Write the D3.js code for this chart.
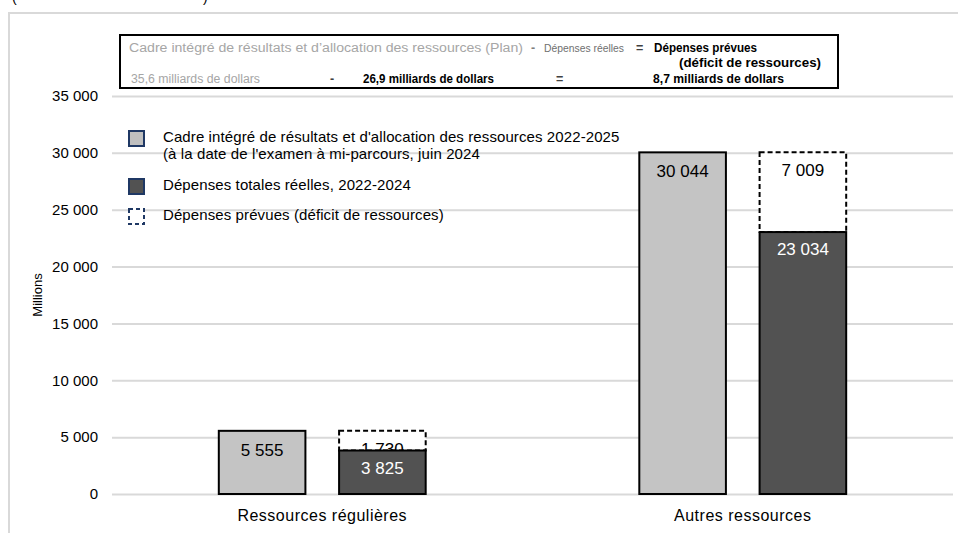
<!DOCTYPE html>
<html>
<head>
<meta charset="utf-8">
<script src="https://cdn.jsdelivr.net/npm/d3@7"></script>
<style>
  html, body { margin: 0; padding: 0; background: #fff; }
  svg { display: block; }
  text { font-family: "Liberation Sans", Arial, sans-serif; }
  .boxtxt { font-family: "Liberation Sans Narrow", "Arial Narrow", "Liberation Sans", sans-serif; }
</style>
</head>
<body>
<svg id="chart" width="958" height="533"></svg>
<script>
// Categories and series (millions of dollars)
const categories = ["Ressources régulières", "Autres ressources"];
const planValues = [5555, 30044];      // Cadre intégré (plan)
const actualValues = [3825, 23034];    // Dépenses totales réelles
const deficitValues = [1730, 7009];    // Dépenses prévues (déficit)
const yTicks = [0, 5000, 10000, 15000, 20000, 25000, 30000, 35000];

const legendItems = [
  { kind: "plan", lines: ["Cadre intégré de résultats et d'allocation des ressources 2022-2025", "(à la date de l'examen à mi-parcours, juin 2024"] },
  { kind: "actual", lines: ["Dépenses totales réelles, 2022-2024"] },
  { kind: "deficit", lines: ["Dépenses prévues (déficit de ressources)"] }
];

const fr = d3.formatLocale({ decimal: ",", thousands: " ", grouping: [3], currency: ["", ""] });
const fmt = fr.format(",d");

const svg = d3.select("#chart");
const COL_PLAN = "#c4c4c4", COL_ACT = "#525252", GRID = "#d9d9d9", NAVY = "#1f3864";

// outer frame running off the page
svg.append("path")
  .attr("d", "M9,540 L9,13 L970,13")
  .attr("fill", "none").attr("stroke", GRID).attr("stroke-width", 2);

// tail of the line above the frame
svg.append("text").attr("x", 12).attr("y", 2).attr("font-size", 14).attr("fill", "#000").text("(");
svg.append("text").attr("x", 203).attr("y", 2).attr("font-size", 14).attr("fill", "#000").text(")");

const plot = { left: 112, right: 953, top: 96, bottom: 494 };

const y = d3.scaleLinear().domain([0, 35000]).range([plot.bottom, plot.top]);
const x0 = d3.scaleBand().domain(categories).range([plot.left, plot.right]);
const x1 = d3.scaleBand().domain(["plan", "actual"])
  .range([x0.bandwidth() * 0.254, x0.bandwidth() * 0.746])
  .paddingInner(0.28);

// gridlines + y tick labels
const yAxis = d3.axisLeft(y).tickValues(yTicks).tickFormat(fmt)
  .tickSize(-(plot.right - plot.left)).tickPadding(14);
const ya = svg.append("g").attr("transform", `translate(${plot.left},0)`).call(yAxis);
ya.select(".domain").remove();
ya.selectAll(".tick line").attr("stroke", GRID).attr("stroke-width", 2);
ya.selectAll(".tick text").attr("font-size", 15).attr("fill", "#000")
  .attr("font-family", "Liberation Sans, Arial, sans-serif");

// category axis labels
const xAxis = d3.axisBottom(x0).tickSize(0).tickPadding(16);
const xa = svg.append("g").attr("transform", `translate(0,${plot.bottom})`).call(xAxis);
xa.select(".domain").remove();
xa.selectAll(".tick text").attr("font-size", 16).attr("letter-spacing", 0.5).attr("fill", "#000")
  .attr("font-family", "Liberation Sans, Arial, sans-serif");

// y axis title
svg.append("text")
  .attr("transform", "translate(42,295) rotate(-90)")
  .attr("text-anchor", "middle").attr("font-size", 13).attr("fill", "#000")
  .text("Millions");

const groups = svg.append("g").selectAll("g")
  .data(categories).join("g")
  .attr("transform", d => `translate(${x0(d)},0)`);

// plan bars
groups.append("rect")
  .attr("x", x1("plan")).attr("width", x1.bandwidth())
  .attr("y", (d, i) => y(planValues[i]))
  .attr("height", (d, i) => y(0) - y(planValues[i]))
  .attr("fill", COL_PLAN).attr("stroke", "#000").attr("stroke-width", 2);
groups.append("text")
  .attr("x", x1("plan") + x1.bandwidth() / 2)
  .attr("y", (d, i) => y(planValues[i]) + 25)
  .attr("text-anchor", "middle").attr("font-size", 17).attr("fill", "#000")
  .text((d, i) => fmt(planValues[i]));

// planned spending (deficit) stacked on top of actual, dashed outline
groups.append("rect")
  .attr("x", x1("actual")).attr("width", x1.bandwidth())
  .attr("y", (d, i) => y(actualValues[i] + deficitValues[i]))
  .attr("height", (d, i) => y(actualValues[i]) - y(actualValues[i] + deficitValues[i]))
  .attr("fill", "#fff").attr("stroke", "#000").attr("stroke-width", 2)
  .attr("stroke-dasharray", "5,3");
groups.append("text")
  .attr("x", x1("actual") + x1.bandwidth() / 2)
  .attr("y", (d, i) => y(actualValues[i] + deficitValues[i]) + 24)
  .attr("text-anchor", "middle").attr("font-size", 17).attr("fill", "#000")
  .text((d, i) => fmt(deficitValues[i]));

// actual spending bars
groups.append("rect")
  .attr("x", x1("actual")).attr("width", x1.bandwidth())
  .attr("y", (d, i) => y(actualValues[i]))
  .attr("height", (d, i) => y(0) - y(actualValues[i]))
  .attr("fill", COL_ACT).attr("stroke", "#000").attr("stroke-width", 2);
groups.append("text")
  .attr("x", x1("actual") + x1.bandwidth() / 2)
  .attr("y", (d, i) => y(actualValues[i]) + 23)
  .attr("text-anchor", "middle").attr("font-size", 17).attr("fill", "#fff")
  .text((d, i) => fmt(actualValues[i]));

// legend
const legendRows = [138, 186, 216];
const lg = svg.append("g");
legendItems.forEach((item, k) => {
  const cy = legendRows[k];
  const r = lg.append("rect").attr("x", 129).attr("y", cy - 7).attr("width", 15).attr("height", 15)
    .attr("stroke", NAVY).attr("stroke-width", 2);
  if (item.kind === "plan") r.attr("fill", "#bfbfbf");
  else if (item.kind === "actual") r.attr("fill", COL_ACT);
  else r.attr("fill", "#fff").attr("stroke-dasharray", "4,3");
  item.lines.forEach((line, j) => {
    lg.append("text").attr("x", 163).attr("y", cy + 4 + j * 17)
      .attr("font-size", 15).attr("letter-spacing", 0.1).attr("fill", "#000").text(line);
  });
});

// equation box
svg.append("rect").attr("x", 120).attr("y", 35).attr("width", 718).attr("height", 53)
  .attr("fill", "#fff").attr("stroke", "#000").attr("stroke-width", 2);

const boxTexts = [
  { t: "Cadre intégré de résultats et d\u2019allocation des ressources (Plan)", x: 129, y: 52, w: 394, s: 12.5, c: "#a6a6a6", b: false },
  { t: "-", x: 531, y: 52, s: 12.5, c: "#7f7f7f", b: true },
  { t: "Dépenses réelles", x: 544, y: 52, w: 80, s: 11, c: "#6f6f6f", b: false },
  { t: "=", x: 636, y: 52, s: 12.5, c: "#404040", b: true },
  { t: "Dépenses prévues", x: 654, y: 52, w: 103, s: 12.5, c: "#000", b: true },
  { t: "(déficit de ressources)", x: 679, y: 67, w: 142, s: 12.5, c: "#000", b: true },
  { t: "35,6 milliards de dollars", x: 131, y: 83, w: 129, s: 12.5, c: "#a6a6a6", b: false },
  { t: "-", x: 330, y: 83, s: 12.5, c: "#404040", b: true },
  { t: "26,9 milliards de dollars", x: 363, y: 83, w: 131, s: 12.5, c: "#000", b: true },
  { t: "=", x: 556, y: 83, s: 12.5, c: "#404040", b: true },
  { t: "8,7 milliards de dollars", x: 653, y: 83, w: 131, s: 12.5, c: "#000", b: true }
];
boxTexts.forEach(b => {
  const t = svg.append("text").attr("class", "boxtxt")
    .attr("font-weight", b.b ? "bold" : "normal")
    .attr("x", b.x).attr("y", b.y).attr("font-size", b.s).attr("fill", b.c).text(b.t);
  if (b.w) t.attr("textLength", b.w).attr("lengthAdjust", "spacingAndGlyphs");
});
</script>
</body>
</html>
